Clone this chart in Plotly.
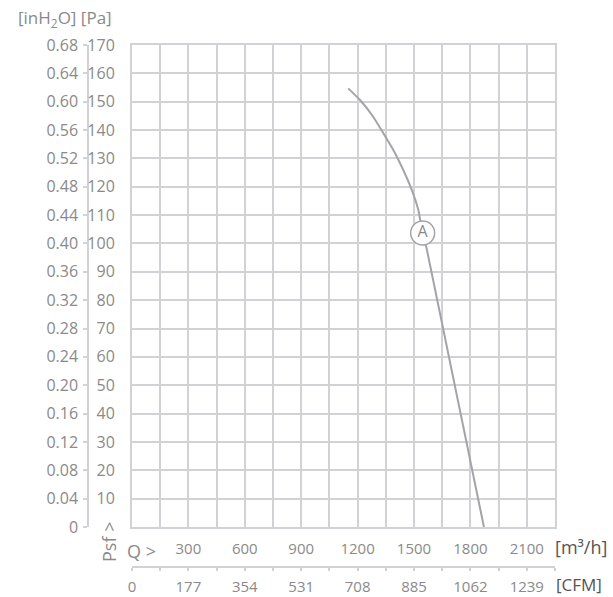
import plotly.graph_objects as go

# ---- data ----
flow_m3h = [1150, 1213, 1283, 1337, 1390, 1443, 1488, 1523, 1546, 1567, 1872]
psf_pa = [154.7, 150.6, 144.7, 138.9, 133.0, 125.9, 118.9, 111.8, 103.7, 98.3, 0]
curve_label = "A"
label_point = (1546, 103.7)

q_ticks = [300, 600, 900, 1200, 1500, 1800, 2100]
cfm_vals = [0, 300, 600, 900, 1200, 1500, 1800, 2100]
cfm_text = ["0", "177", "354", "531", "708", "885", "1062", "1239"]
pa_ticks = list(range(0, 171, 10))
pa_labels = [""] + [str(v) for v in range(10, 171, 10)]
inh2o_text = ["0", "0.04", "0.08", "0.12", "0.16", "0.20", "0.24", "0.28", "0.32",
              "0.36", "0.40", "0.44", "0.48", "0.52", "0.56", "0.60", "0.64", "0.68"]

W, H = 613, 597
GRID = "#d2d2d6"
TXT = "#8a8a8a"
CURVE = "#a4a4a8"
FONT = "Open Sans"

x_grid = list(range(0, 2251, 150))
x_text = [str(v) if v in q_ticks else "" for v in x_grid]
cfm_grid = x_grid
cfm_grid_text = [cfm_text[cfm_vals.index(v)] if v in cfm_vals else "" for v in x_grid]

# plot area pixels
L, R, T, B = 132, 555, 45, 527
xdom = [L / W, R / W]
ydom = [1 - B / H, 1 - T / H]

fig = go.Figure()
fig.add_trace(go.Scatter(x=flow_m3h, y=psf_pa, mode="lines",
                         line=dict(color=CURVE, width=2, shape="spline", smoothing=0.4),
                         hoverinfo="skip", showlegend=False))
fig.add_trace(go.Scatter(x=[label_point[0]], y=[label_point[1]], mode="markers+text",
                         marker=dict(size=24, color="white", line=dict(color=CURVE, width=1.5)),
                         text=[curve_label], textposition="middle center",
                         textfont=dict(family=FONT, size=16, color=TXT),
                         hoverinfo="skip", showlegend=False))
# dummy traces for overlay axes
fig.add_trace(go.Scatter(x=[0], y=[0], xaxis="x2", yaxis="y", mode="markers",
                         marker=dict(opacity=0), showlegend=False, hoverinfo="skip"))
fig.add_trace(go.Scatter(x=[0], y=[0], xaxis="x", yaxis="y2", mode="markers",
                         marker=dict(opacity=0), showlegend=False, hoverinfo="skip"))

fig.update_layout(
    width=W, height=H,
    margin=dict(l=0, r=0, t=0, b=0),
    paper_bgcolor="white", plot_bgcolor="white",
    font=dict(family=FONT, color=TXT),
    xaxis=dict(domain=xdom, range=[0, 2250], tickmode="array", tickvals=x_grid, ticktext=x_text,
               showgrid=True, gridcolor=GRID, gridwidth=2, zeroline=False,
               showline=True, mirror=True, linecolor=GRID, linewidth=2,
               ticks="outside", ticklen=0, ticklabelstandoff=7,
               tickfont=dict(size=15, color=TXT), anchor="y", automargin=False),
    xaxis2=dict(overlaying="x", anchor="free", position=1 - 567 / H, side="bottom",
                range=[0, 2250], tickmode="array", tickvals=cfm_grid, ticktext=cfm_grid_text,
                showgrid=False, zeroline=False, showline=True, linecolor=GRID, linewidth=2,
                ticks="outside", ticklen=3, tickcolor=GRID, tickwidth=1.5, ticklabelstandoff=3,
                tickfont=dict(size=15, color=TXT), automargin=False),
    yaxis=dict(domain=ydom, range=[0, 170], tickmode="array", tickvals=pa_ticks,
               ticktext=pa_labels,
               showgrid=True, gridcolor=GRID, gridwidth=2, zeroline=False,
               showline=True, mirror=True, linecolor=GRID, linewidth=2,
               ticks="outside", ticklen=0, ticklabelstandoff=12,
               tickfont=dict(size=16, color=TXT), anchor="x", automargin=False),
    yaxis2=dict(overlaying="y", anchor="free", position=88 / W, side="left",
                range=[0, 170], tickmode="array", tickvals=pa_ticks, ticktext=inh2o_text,
                showgrid=False, zeroline=False, showline=True, linecolor=GRID, linewidth=1.5,
                ticks="outside", ticklen=4, tickcolor=GRID, tickwidth=1.5, ticklabelstandoff=2,
                tickfont=dict(size=16, color=TXT), automargin=False),
)

ann = [
    dict(text="[inH<sub>2</sub>O] [Pa]", x=16 / W, y=1 - 18 / H, xanchor="left", yanchor="middle",
         font=dict(size=17, color=TXT)),
    dict(text="Q >", x=141 / W, y=1 - 551 / H, xanchor="center", yanchor="middle",
         font=dict(size=18, color=TXT)),
    dict(text="Psf >", x=109 / W, y=1 - 542 / H, xanchor="center", yanchor="middle",
         textangle=-90, font=dict(size=18, color=TXT)),
    dict(text="[m³/h]", x=553 / W, y=1 - 547 / H, xanchor="left", yanchor="middle",
         font=dict(size=18, color="#555555")),
    dict(text="[CFM]", x=554 / W, y=1 - 584 / H, xanchor="left", yanchor="middle",
         font=dict(size=17, color="#555555")),
]
for a in ann:
    a.update(xref="paper", yref="paper", showarrow=False)
fig.update_layout(annotations=ann)

fig.write_html("out.html", config={"displayModeBar": False},
               post_script="document.body.style.margin='0px';")
